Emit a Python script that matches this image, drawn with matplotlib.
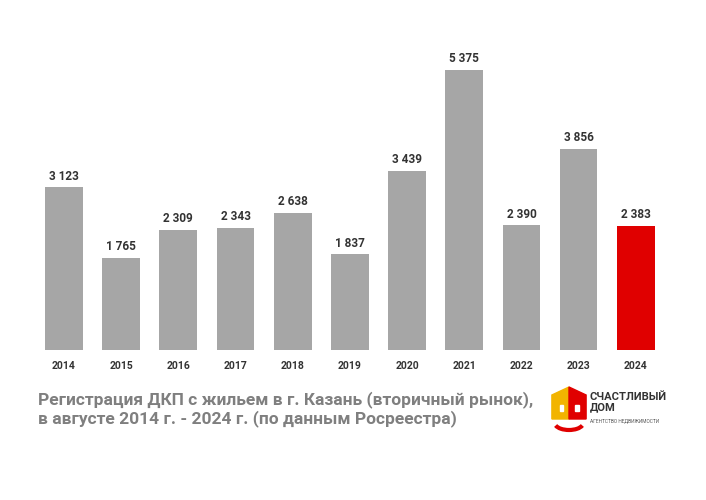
import matplotlib
matplotlib.use("Agg")
import matplotlib.pyplot as plt
from matplotlib.patches import Polygon, Arc, Rectangle

years = ["2014","2015","2016","2017","2018","2019","2020","2021","2022","2023","2024"]
values = [3123,1765,2309,2343,2638,1837,3439,5375,2390,3856,2383]
labels = ["3 123","1 765","2 309","2 343","2 638","1 837","3 439","5 375","2 390","3 856","2 383"]

plt.rcParams['font.family'] = ['Roboto', 'DejaVu Sans']
fig = plt.figure(figsize=(7.06,5.0), dpi=100)
ax = fig.add_axes([35.4/706, 0.3, 629/706, 0.62])
colors = ['#a6a6a6']*10 + ['#e00000']
x = range(len(years))
ax.bar(x, values, width=0.66, color=colors)
for i, v in enumerate(values):
    ax.text(i, v + 90, labels[i], ha='center', va='bottom', fontsize=8.5, fontweight='bold', color='#333333')
ax.set_xlim(-0.5, 10.5); ax.set_ylim(0, 5950)
ax.set_xticks(list(x)); ax.set_xticklabels(years, fontsize=7.5, fontweight='bold', color='#333333')
ax.tick_params(length=0, pad=8)
ax.set_yticks([])
for s in ax.spines.values(): s.set_visible(False)

fig.text(38/706, 1-409/500, "Регистрация ДКП с жильем в г. Казань (вторичный рынок),\nв августе 2014 г. - 2024 г. (по данным Росреестра)",
         fontsize=12.5, fontweight='bold', color='#7f7f7f', va='center', ha='left', linespacing=1.15)

# logo
lx = fig.add_axes([550/706, 1-435/500, 38/706, 50/500])
lx.set_xlim(0, 40); lx.set_ylim(0, 50); lx.axis('off')
lx.add_patch(Polygon([[2,16],[2,40],[20,48],[20,16]], color='#f2b400'))
lx.add_patch(Polygon([[20,16],[20,48],[38,40],[38,16]], color='#e00000'))
lx.add_patch(Rectangle((10,24),4,6,color='white'))
lx.add_patch(Rectangle((26,24),4,6,color='white'))
lx.add_patch(Arc((20,12),30,14,theta1=190,theta2=350,color='#e00000',lw=3))
fig.text(590/706, 1-402/500, "СЧАСТЛИВЫЙ\nДОМ", fontsize=8, fontweight='bold', color='#333333', va='center', linespacing=1.0)
fig.text(590/706, 1-421/500, "АГЕНТСТВО НЕДВИЖИМОСТИ", fontsize=3.5, color='#555555', va='center')
fig.savefig("out.png", dpi=100)
